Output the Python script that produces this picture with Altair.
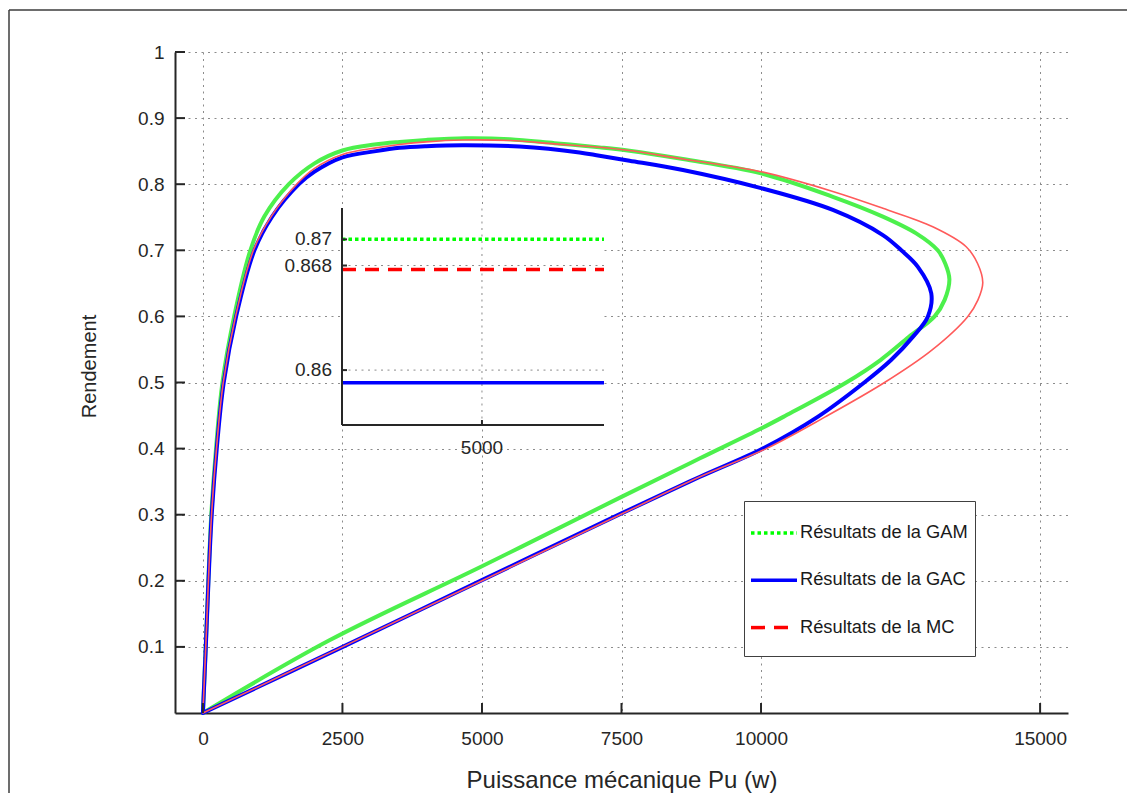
import altair as alt
import pandas as pd

# ---------------- data ----------------
series = ["Résultats de la GAM", "Résultats de la GAC", "Résultats de la MC"]

gam_p = [0, 50, 97, 150, 235, 350, 560, 850, 1100, 1540, 2000, 2500, 3074, 3522, 4000, 4700,
         5500, 6300, 7105, 7643, 8600, 10000, 11287, 12183, 12780, 13166, 13300, 13375, 13290,
         13110, 12650, 12140, 11527, 10400, 10000, 8897, 7500, 5000, 2267, 0]
gam_eta = [0, 0.1, 0.2, 0.3, 0.4, 0.5, 0.6, 0.7, 0.751, 0.8, 0.8315, 0.851, 0.860, 0.864, 0.867, 0.8695,
           0.868, 0.862, 0.8557, 0.8506, 0.838, 0.8164, 0.781, 0.751, 0.7256, 0.7, 0.68, 0.656, 0.625,
           0.6, 0.569, 0.534, 0.5, 0.448, 0.4304, 0.385, 0.327, 0.222, 0.110, 0]

gac_p = [0, 52, 100, 158, 248, 373, 595, 923, 1240, 1720, 2000, 2500, 3100, 3522, 4000, 4650,
         5672, 6747, 7105, 7643, 8600, 10000, 11287, 12183, 12513, 12810, 13050, 12990, 12720,
         12330, 11850, 11015, 10030, 8897, 7500, 5000, 2505, 0]
gac_eta = [0, 0.1, 0.2, 0.3, 0.4, 0.5, 0.6, 0.7, 0.751, 0.8, 0.819, 0.8406, 0.850, 0.855, 0.8575, 0.859,
           0.857, 0.848, 0.843, 0.8355, 0.8214, 0.794, 0.761, 0.723, 0.7, 0.675, 0.635, 0.6, 0.569,
           0.534, 0.5, 0.448, 0.4, 0.357, 0.302, 0.201, 0.1, 0]

mc_p = [0, 51, 99, 155, 243, 365, 585, 905, 1222, 1680, 2000, 2500, 3100, 3522, 4000, 4650, 5500,
        6300, 7105, 7643, 8600, 10000, 11287, 12183, 13077, 13676, 13880, 13973, 13885, 13706,
        13060, 12213, 11150, 10093, 8897, 7500, 5000, 2500, 0]
mc_eta = [0, 0.1, 0.2, 0.3, 0.4, 0.5, 0.6, 0.7, 0.751, 0.8, 0.824, 0.845, 0.855, 0.860, 0.864, 0.8668, 0.866,
          0.861, 0.856, 0.851, 0.838, 0.8189, 0.789, 0.7635, 0.7356, 0.7054, 0.68, 0.651, 0.6247, 0.6,
          0.549, 0.5, 0.448, 0.4, 0.357, 0.301, 0.2, 0.1, 0]

# maximum efficiency of each model (zoomed inset)
eta_max = [0.8700, 0.85903, 0.8677]

x_ticks = [0, 2500, 5000, 7500, 10000, 15000]
y_ticks = [0.1, 0.2, 0.3, 0.4, 0.5, 0.6, 0.7, 0.8, 0.9, 1.0]
x_domain = [-500, 15500]
y_domain = [0, 1]

inset_x_domain = [4750, 5218]
inset_y_domain = [0.8558, 0.8724]
inset_x_ticks = [5000]
inset_y_ticks = [0.86, 0.868, 0.87]

# ---------------- style ----------------
W, H = 893, 661
FONT = "Liberation Sans"
INK = "#262626"
GRID = "#8c8c8c"
DOT = [2, 4.5]
LBL = 19
main_colors = ["#4cf04c", "#0000ff", "#ff5a5a"]
main_widths = [4, 4, 1.6]
key_colors = ["#00ff00", "#0000ff", "#ff0000"]
key_widths = [3.5, 3.5, 2]
key_dash = [[3.5, 3], [1, 0], [14, 9]]
# inset pixel ranges inside the main plot area
INSET_X_RANGE = [167, 429]
INSET_Y_RANGE = [373, 156]

# ---------------- tables ----------------
rows = []
for name, ps, es in zip(series, [gam_p, gac_p, mc_p], [gam_eta, gac_eta, mc_eta]):
    for i, (p, e) in enumerate(zip(ps, es)):
        rows.append({"serie": name, "P": p, "eta": e, "i": i})
curves = pd.DataFrame(rows)

inset_rows = []
for name, e in zip(series, eta_max):
    for p in inset_x_domain:
        inset_rows.append({"serie": name, "P": p, "eta": e})
inset_lines = pd.DataFrame(inset_rows)

box = pd.DataFrame([{"p0": inset_x_domain[0], "p1": inset_x_domain[1],
                     "e0": inset_y_domain[0], "e1": inset_y_domain[1]}])
iyt = pd.DataFrame({"yt": inset_y_ticks, "p0": inset_x_domain[0], "p1": inset_x_domain[1]})
ixt = pd.DataFrame({"xt": inset_x_ticks, "e0": inset_y_domain[0], "e1": inset_y_domain[1]})
xt = pd.DataFrame({"xt": x_ticks})
yt = pd.DataFrame({"yt": y_ticks})
one = pd.DataFrame({"k": [0]})

# ---------------- main axes ----------------
xs = alt.Scale(domain=x_domain, nice=False, zero=False)
ys = alt.Scale(domain=y_domain, nice=False, zero=False)

x_axis = alt.Axis(values=x_ticks, format="d", ticks=False, labelPadding=16,
                  grid=True, gridDash=DOT, gridColor=GRID, gridWidth=1,
                  domainColor=INK, domainWidth=2,
                  labelFont=FONT, labelFontSize=LBL, labelColor=INK,
                  title="Puissance mécanique Pu (w)", titleFont=FONT, titleFontSize=24,
                  titleFontWeight="normal", titleColor=INK, titleX=446.5, titleY=74,
                  titleAlign="center", titleBaseline="alphabetic")
y_axis = alt.Axis(values=y_ticks, format="~g", ticks=False, labelPadding=11,
                  grid=True, gridDash=DOT, gridColor=GRID, gridWidth=1,
                  domainColor=INK, domainWidth=2,
                  labelFont=FONT, labelFontSize=LBL, labelColor=INK,
                  title="Rendement", titleFont=FONT, titleFontSize=20,
                  titleFontWeight="normal", titleColor=INK, titleAngle=270,
                  titleX=-80, titleY=314, titleAlign="center", titleBaseline="alphabetic")

def X(field):
    return alt.X(field, scale=xs, axis=x_axis)

def Y(field):
    return alt.Y(field, scale=ys, axis=y_axis)

main_layers = []
for name, col, w in zip(series, main_colors, main_widths):
    main_layers.append(
        alt.Chart(curves).transform_filter(alt.datum.serie == name)
        .mark_line(color=col, strokeWidth=w, strokeJoin="round", strokeCap="round",
                   interpolate="catmull-rom")
        .encode(x=X("P:Q"), y=Y("eta:Q"), order="i:Q")
    )

x_tick_marks = alt.Chart(xt).mark_rule(color=INK, strokeWidth=2).encode(
    x=X("xt:Q"), y=alt.value(H), y2=alt.value(H - 10))
y_tick_marks = alt.Chart(yt).mark_rule(color=INK, strokeWidth=2).encode(
    y=Y("yt:Q"), x=alt.value(0), x2=alt.value(10))

frame_top = alt.Chart(one).mark_rule(color="#3c3c3c", strokeWidth=1.5).encode(
    x=alt.value(-166), x2=alt.value(W + 80), y=alt.value(-42))
frame_left = alt.Chart(one).mark_rule(color="#3c3c3c", strokeWidth=1.5).encode(
    x=alt.value(-166), y=alt.value(-42), y2=alt.value(H + 120))

main = alt.layer(frame_top, frame_left, *main_layers, x_tick_marks, y_tick_marks)

# ---------------- inset ----------------
ixs = alt.Scale(domain=inset_x_domain, range=INSET_X_RANGE, nice=False, zero=False)
iys = alt.Scale(domain=inset_y_domain, range=INSET_Y_RANGE, nice=False, zero=False)

bg = alt.Chart(box).mark_rect(fill="white", stroke=None).encode(
    x=alt.X("p0:Q", scale=ixs, axis=None), x2="p1:Q",
    y=alt.Y("e0:Q", scale=iys, axis=None), y2="e1:Q")

igrid_h = alt.Chart(iyt).mark_rule(color=GRID, strokeWidth=1, strokeDash=DOT).encode(
    x=alt.X("p0:Q", scale=ixs, axis=None), x2="p1:Q",
    y=alt.Y("yt:Q", scale=iys, axis=None))
igrid_v = alt.Chart(ixt).mark_rule(color=GRID, strokeWidth=1, strokeDash=DOT).encode(
    x=alt.X("xt:Q", scale=ixs, axis=None),
    y=alt.Y("e0:Q", scale=iys, axis=None), y2="e1:Q")

iaxis_left = alt.Chart(box).mark_rule(color=INK, strokeWidth=2).encode(
    x=alt.X("p0:Q", scale=ixs, axis=None),
    y=alt.Y("e0:Q", scale=iys, axis=None), y2="e1:Q")
iaxis_bottom = alt.Chart(box).mark_rule(color=INK, strokeWidth=2).encode(
    x=alt.X("p0:Q", scale=ixs, axis=None), x2="p1:Q",
    y=alt.Y("e0:Q", scale=iys, axis=None))

itick_y = alt.Chart(iyt).mark_rule(color=INK, strokeWidth=2).encode(
    x=alt.X("p0:Q", scale=ixs, axis=None), x2=alt.value(INSET_X_RANGE[0] + 5),
    y=alt.Y("yt:Q", scale=iys, axis=None))
itick_x = alt.Chart(ixt).mark_rule(color=INK, strokeWidth=2).encode(
    x=alt.X("xt:Q", scale=ixs, axis=None),
    y=alt.Y("e0:Q", scale=iys, axis=None), y2=alt.value(INSET_Y_RANGE[0] - 5))

ilabel_y = alt.Chart(iyt).mark_text(align="right", baseline="middle", dx=-10,
                                    font=FONT, fontSize=LBL, color=INK).encode(
    x=alt.X("p0:Q", scale=ixs, axis=None),
    y=alt.Y("yt:Q", scale=iys, axis=None),
    text=alt.Text("yt:Q", format="~g"))
ilabel_x = alt.Chart(ixt).mark_text(align="center", baseline="middle", dy=23,
                                    font=FONT, fontSize=LBL, color=INK).encode(
    x=alt.X("xt:Q", scale=ixs, axis=None),
    y=alt.Y("e0:Q", scale=iys, axis=None),
    text=alt.Text("xt:Q", format="d"))

legend = alt.Legend(title=" ", titleOrient="bottom", titleFontSize=6, titlePadding=7,
                    orient="none", legendX=569, legendY=449,
                    symbolType="stroke", symbolSize=2116, symbolOffset=-2,
                    labelFont=FONT, labelFontSize=18.3, labelColor="#1a1a1a", labelOffset=1,
                    padding=7, rowPadding=13.3, strokeColor="#404040",
                    fillColor="white", labelLimit=400, cornerRadius=0)

ilines = alt.Chart(inset_lines).mark_line(strokeCap="butt").encode(
    x=alt.X("P:Q", scale=ixs, axis=None),
    y=alt.Y("eta:Q", scale=iys, axis=None),
    color=alt.Color("serie:N", scale=alt.Scale(domain=series, range=key_colors), legend=legend),
    strokeDash=alt.StrokeDash("serie:N", scale=alt.Scale(domain=series, range=key_dash), legend=legend),
    strokeWidth=alt.StrokeWidth("serie:N", scale=alt.Scale(domain=series, range=key_widths), legend=legend),
)

inset = alt.layer(bg, igrid_h, igrid_v, ilines, iaxis_left, iaxis_bottom,
                  itick_y, itick_x, ilabel_y, ilabel_x)

chart = (
    alt.layer(main, inset)
    .resolve_scale(x="independent", y="independent")
    .properties(width=W, height=H,
                padding={"left": 167, "top": 44, "right": 59, "bottom": 80},
                autosize=alt.AutoSizeParams(type="none"),
                background="white")
    .configure_view(stroke=None)
)

chart.save("out.html", embed_options={"renderer": "svg", "actions": False})
